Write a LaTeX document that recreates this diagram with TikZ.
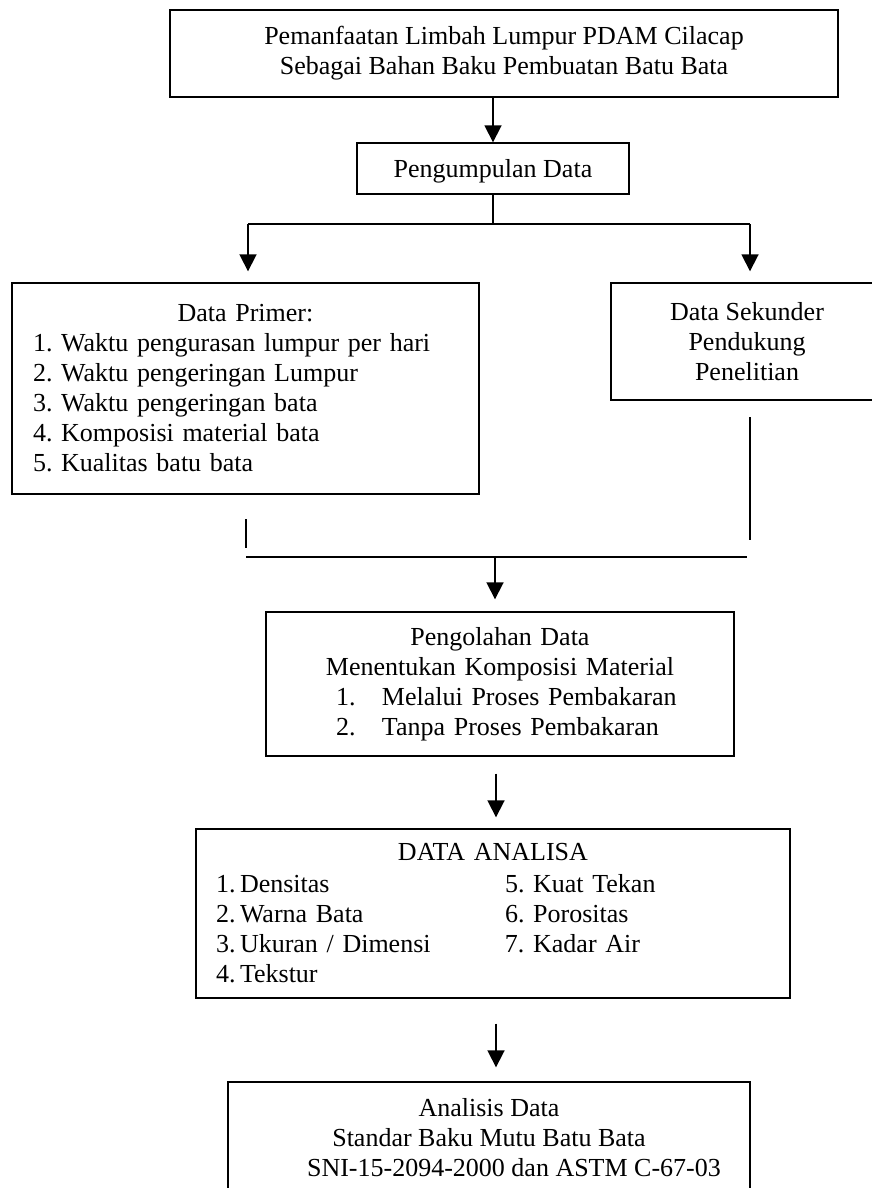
\documentclass[tikz,border=0pt]{standalone}
\usepackage{fontspec}
\setmainfont{Liberation Serif}
\usetikzlibrary{arrows.meta}
\newcommand\flowfont{\fontsize{26pt}{30pt}\selectfont}
\begin{document}
\frenchspacing\spaceskip=6.5pt\relax
\begin{tikzpicture}[x=1pt,y=-1pt,
  box/.style={draw, line width=1.4pt, inner sep=0pt, font=\flowfont},
  conn/.style={line width=1.8pt},
  arr/.style={conn, -{Triangle[length=17pt,width=17pt]}}]
\useasboundingbox (0,0) rectangle (872,1188);

% boxes
\node[box, minimum width=668pt, minimum height=87pt, align=center] (top) at (504,53.5)
  {Pemanfaatan Limbah Lumpur PDAM Cilacap\\Sebagai Bahan Baku Pembuatan Batu Bata};
\node[box, minimum width=272pt, minimum height=51pt, align=center, text depth=0pt] (pg) at (493,168.5)
  {Pengumpulan Data};
\node[box, minimum width=467pt, minimum height=211pt, text width=425pt, align=left] (dp) at (245.5,388.5)
  {\makebox[425pt]{Data Primer:}\\
   1. Waktu pengurasan lumpur per hari\\
   2. Waktu pengeringan Lumpur\\
   3. Waktu pengeringan bata\\
   4. Komposisi material bata\\
   5. Kualitas batu bata};
\node[box, minimum width=272pt, minimum height=117pt, align=center] (ds) at (747,341.5)
  {Data Sekunder\\Pendukung\\Penelitian};
\node[box, minimum width=468pt, minimum height=144pt, text width=400pt, align=left] (po) at (500,684)
  {\makebox[400pt]{Pengolahan Data}\\
   \makebox[400pt]{Menentukan Komposisi Material}\\
   \hspace*{36pt}\makebox[46pt][l]{1.}Melalui Proses Pembakaran\\
   \hspace*{36pt}\makebox[46pt][l]{2.}Tanpa Proses Pembakaran};
\node[box, minimum width=594pt, minimum height=169pt, text width=554pt, align=left] (da) at (493,913.5)
  {\makebox[554pt]{DATA ANALISA}\\[2pt]
   \makebox[289pt][l]{\makebox[24pt][l]{1.}Densitas}5. Kuat Tekan\\
   \makebox[289pt][l]{\makebox[24pt][l]{2.}Warna Bata}6. Porositas\\
   \makebox[289pt][l]{\makebox[24pt][l]{3.}Ukuran / Dimensi}7. Kadar Air\\
   \makebox[24pt][l]{4.}Tekstur};
\node[box, minimum width=522pt, minimum height=112pt, align=center] (ad) at (489,1138)
  {Analisis Data\\Standar Baku Mutu Batu Bata\\\hspace*{50pt}SNI-15-2094-2000 dan ASTM C-67-03};

% coordinates for free ends
\coordinate (busL) at (248,224);
\coordinate (busR) at (750,224);
\coordinate (rTop) at (750,417);
\coordinate (rBot) at (750,540);
\coordinate (lTop) at (246,519);
\coordinate (lBot) at (246,548);
\coordinate (mL) at (246,557);
\coordinate (mR) at (747,557);
\coordinate (mid) at (495,557);

% connectors
\draw[arr] (pg.north |- top.south) -- (pg.north);
\draw[conn] (pg.south) -- (pg.south |- busL);
\draw[conn] (busL) -- (busR);
\draw[arr, shorten >=11pt] (busL) -- (busL |- dp.north);
\draw[arr, shorten >=11pt] (busR) -- (busR |- ds.north);
\draw[conn] (rTop) -- (rBot);
\draw[conn] (lTop) -- (lBot);
\draw[conn] (mL) -- (mR);
\draw[arr, shorten >=12pt] (mid) -- (mid |- po.north);
\draw[arr, shorten <=17pt, shorten >=11pt] ([xshift=3pt]da.north |- po.south) -- ([xshift=3pt]da.north);
\draw[arr, shorten <=25pt, shorten >=14pt] ([xshift=3pt]da.south) -- ([xshift=3pt]da.south |- ad.north);
\end{tikzpicture}
\end{document}
